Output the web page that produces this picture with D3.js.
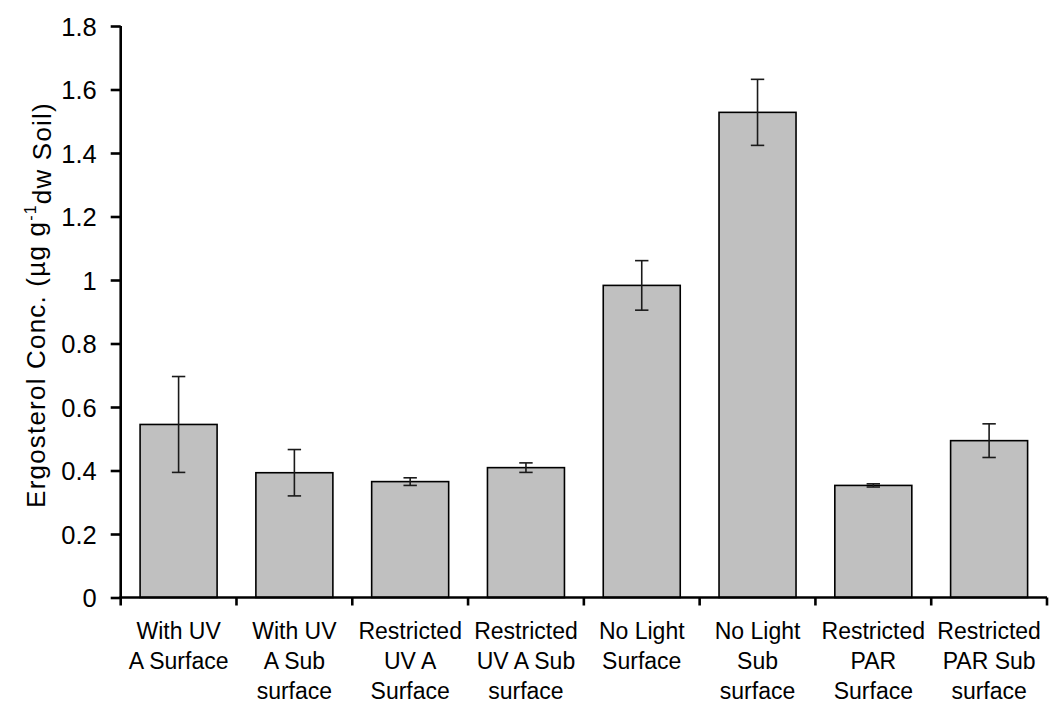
<!DOCTYPE html>
<html>
<head>
<meta charset="utf-8">
<script src="https://cdn.jsdelivr.net/npm/d3@7"></script>
<style>
  body { margin: 0; background: #fff; }
  text { font-family: Arial, "Liberation Sans", sans-serif; fill: #000; }
</style>
</head>
<body>
<div id="chart"></div>
<script>
// treatments, one entry per bar (label lines as shown under the axis)
const categories = [
  ["With UV", "A Surface"],
  ["With UV", "A Sub", "surface"],
  ["Restricted", "UV A", "Surface"],
  ["Restricted", "UV A Sub", "surface"],
  ["No Light", "Surface"],
  ["No Light", "Sub", "surface"],
  ["Restricted", "PAR", "Surface"],
  ["Restricted", "PAR Sub", "surface"]
];
const ergosterol = [0.545, 0.393, 0.365, 0.409, 0.983, 1.528, 0.353, 0.494];
const stdErr = [0.151, 0.073, 0.012, 0.015, 0.078, 0.104, 0.005, 0.053];
const yTicks = [0, 0.2, 0.4, 0.6, 0.8, 1, 1.2, 1.4, 1.6, 1.8];

drawChart();

function drawChart(){
  const width = 1050;
  const height = 702;
  const margin = {top: 26, right: 3, bottom: 104.5, left: 120.7};

  const svg = d3.select("#chart").append("svg")
                .attr("width", width)
                .attr("height", height);

  const x = d3.scaleBand()
            .domain(d3.range(categories.length))
            .range([margin.left, width - margin.right])
            .paddingInner(0.335)
            .paddingOuter(0.1675);

  const y = d3.scaleLinear()
            .domain([0, 1.8])
            .range([height - margin.bottom, margin.top]);

  // bars
  svg.append("g").selectAll("rect")
      .data(ergosterol)
      .enter().append("rect")
      .attr("x", (d, i) => x(i))
      .attr("y", d => y(d))
      .attr("width", x.bandwidth())
      .attr("height", d => y(0) - y(d))
      .style("fill", "#c0c0c0")
      .style("stroke", "#000")
      .style("stroke-width", 1.6);

  // error bars
  const capHalf = 6.7;
  const err = svg.append("g")
      .style("stroke", "#1a1a1a")
      .style("stroke-width", 1.6);

  ergosterol.forEach((v, i) => {
    const cx = x(i) + x.bandwidth() / 2;
    const hi = y(v + stdErr[i]);
    const lo = y(v - stdErr[i]);
    err.append("line").attr("x1", cx).attr("x2", cx).attr("y1", hi).attr("y2", lo);
    err.append("line").attr("x1", cx - capHalf).attr("x2", cx + capHalf).attr("y1", hi).attr("y2", hi);
    err.append("line").attr("x1", cx - capHalf).attr("x2", cx + capHalf).attr("y1", lo).attr("y2", lo);
  });

  // y axis
  const yAxis = svg.append("g")
      .attr("transform", `translate(${margin.left},0)`)
      .call(d3.axisLeft(y).tickValues(yTicks).tickSize(10).tickPadding(14)
              .tickFormat(d3.format("")));
  yAxis.select(".domain").attr("stroke-width", 2.6).attr("d", `M0,${y(1.8)}V${y(0)}`);
  yAxis.selectAll(".tick line").attr("stroke-width", 2.6);
  yAxis.selectAll(".tick text")
      .style("font-size", "25.5px")
      .attr("dy", "0.36em");

  // x axis: ticks on band boundaries
  const xAxisG = svg.append("g")
      .attr("transform", `translate(0,${y(0)})`);
  const step = x.step();
  const bounds = d3.range(categories.length + 1).map(i => x(0) - x.paddingOuter() * step + i * step);
  xAxisG.append("line")
      .attr("x1", bounds[0] - 1.3).attr("x2", bounds[bounds.length - 1])
      .attr("y1", 0).attr("y2", 0)
      .style("stroke", "#000").style("stroke-width", 2.6);
  xAxisG.selectAll(".xtick")
      .data(bounds)
      .enter().append("line")
      .attr("x1", d => d).attr("x2", d => d)
      .attr("y1", 0).attr("y2", 8)
      .style("stroke", "#000").style("stroke-width", 2.6);

  const labels = xAxisG.selectAll(".xlabel")
      .data(categories)
      .enter().append("text")
      .attr("text-anchor", "middle")
      .style("font-size", "23px")
      .attr("transform", (d, i) => `translate(${x(i) + x.bandwidth() / 2},41)`);
  labels.selectAll("tspan")
      .data(d => d)
      .enter().append("tspan")
      .attr("x", 0)
      .attr("y", (d, j) => j * 30)
      .text(d => d);

  // y axis title with superscript
  const title = svg.append("text")
      .attr("transform", `translate(45,305) rotate(-90)`)
      .attr("text-anchor", "middle")
      .style("font-size", "26px")
      .style("letter-spacing", "1.2px");
  title.append("tspan").text("Ergosterol Conc. (µg g");
  title.append("tspan").attr("dy", "-0.55em").style("font-size", "16px").text("-1");
  title.append("tspan").attr("dy", "0.55em").text("dw Soil)");
}
</script>
</body>
</html>
